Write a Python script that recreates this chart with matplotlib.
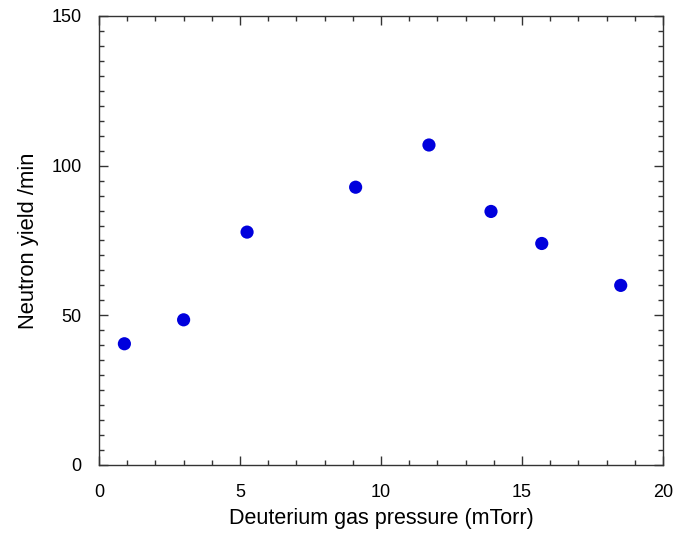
import numpy as np
import matplotlib.pyplot as plt
from matplotlib.ticker import MultipleLocator

plt.rcParams['font.family'] = ['Liberation Sans', 'DejaVu Sans']

# data
pressure = [0.9, 3.0, 5.25, 9.1, 11.7, 13.9, 15.7, 18.5]
yield_per_min = [40.5, 48.5, 77.8, 92.8, 106.9, 84.7, 74.0, 60.0]

fig = plt.figure(figsize=(6.89, 5.33), dpi=100)
ax = fig.add_axes([0.1437, 0.1276, 0.8186, 0.8424])

ax.scatter(pressure, yield_per_min, s=90, color='#0000dd', edgecolors='none', zorder=3)

ax.set_xlim(0, 20)
ax.set_ylim(0, 150)
ax.xaxis.set_major_locator(MultipleLocator(5))
ax.xaxis.set_minor_locator(MultipleLocator(1))
ax.yaxis.set_major_locator(MultipleLocator(50))
ax.yaxis.set_minor_locator(MultipleLocator(5))

ax.tick_params(which='both', direction='in', top=True, right=True,
               color='#333333', width=1.0, labelsize=13)
ax.tick_params(axis='x', pad=14)
ax.tick_params(axis='y', pad=12.5)
ax.tick_params(which='major', length=6.5)
ax.tick_params(which='minor', length=3.6)
for sp in ax.spines.values():
    sp.set_color('#333333')
    sp.set_linewidth(1.0)

ax.set_xlabel('Deuterium gas pressure (mTorr)', fontsize=15.5, labelpad=5)
ax.set_ylabel('Neutron yield /min', fontsize=15.8, labelpad=9)

fig.savefig('out.png', dpi=100)
